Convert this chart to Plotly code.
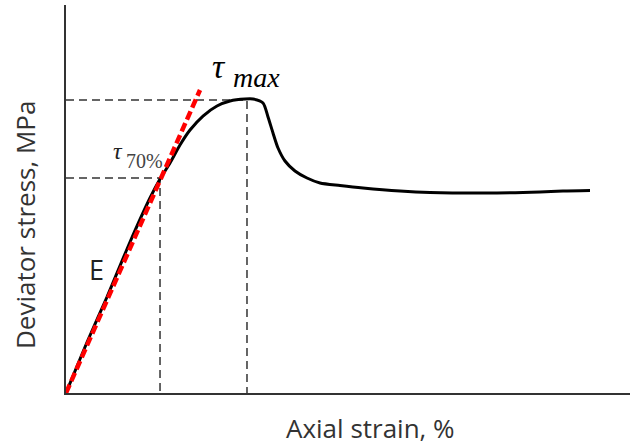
import plotly.graph_objects as go

# Stress-strain curve (arbitrary units)
strain = [0.0, 0.390, 0.727, 1.135, 1.489, 1.667, 1.844, 2.021, 2.199, 2.429, 2.677, 2.908,
          3.174, 3.316, 3.493, 3.582, 3.670, 3.759, 3.883, 4.060, 4.273, 4.504, 4.858,
          5.266, 5.922, 6.454, 7.642, 8.404, 8.812, 9.291]
stress = [0.0, 1.366, 2.474, 3.892, 5.026, 5.515, 5.928, 6.392, 6.778, 7.139, 7.397, 7.526,
          7.577, 7.577, 7.474, 7.113, 6.701, 6.314, 5.979, 5.722, 5.541, 5.412, 5.348,
          5.284, 5.206, 5.168, 5.155, 5.180, 5.206, 5.219]

# Tangent modulus line E
modulus_strain = [0.0, 2.376]
modulus_stress = [0.0, 7.809]

# Reference points
peak_strain, peak_stress = 3.209, 7.552
t70_strain, t70_stress = 1.667, 5.541

W, H = 631, 448
ml, mr, mt, mb = 66, 1, 5, 55

fig = go.Figure()

dash_style = dict(color="#333333", width=1.5, dash="8px,5px")
fig.add_trace(go.Scatter(x=[0, peak_strain, peak_strain], y=[peak_stress, peak_stress, 0],
                         mode="lines", line=dash_style, hoverinfo="skip"))
fig.add_trace(go.Scatter(x=[0, t70_strain, t70_strain], y=[t70_stress, t70_stress, 0],
                         mode="lines", line=dash_style, hoverinfo="skip"))
fig.add_trace(go.Scatter(x=strain, y=stress, mode="lines",
                         line=dict(color="black", width=3, shape="spline", smoothing=0.7)))
fig.add_trace(go.Scatter(x=modulus_strain, y=modulus_stress, mode="lines",
                         line=dict(color="#ff0000", width=4.5, dash="9px,4px")))


def px_to_paper(px, py):
    return (px - ml) / (W - ml - mr), 1 - (py - mt) / (H - mt - mb)


def add_text(px, py, text, size, family, xanchor="center", color="black", angle=0):
    xp, yp = px_to_paper(px, py)
    fig.add_annotation(x=xp, y=yp, xref="paper", yref="paper", text=text, showarrow=False,
                       xanchor=xanchor, yanchor="middle", textangle=angle,
                       font=dict(family=family, size=size, color=color))


serif = "Liberation Serif"
add_text(219, 66, "<i>τ</i>", 34, serif)
add_text(231, 77, "<i>max</i>", 28, serif, xanchor="left")
add_text(118, 151, "<i>τ</i>", 24, serif, color="#222222")
add_text(124, 161, "70%", 20, serif, xanchor="left", color="#444444")
add_text(96, 269, "E", 27, "Open Sans", color="#222222")
add_text(370, 428, "Axial strain, %", 26, "Open Sans", color="#333333")
add_text(25, 225, "Deviator stress, MPa", 26, "Open Sans", color="#333333", angle=-90)

fig.update_layout(
    width=W, height=H,
    margin=dict(l=ml, r=mr, t=mt, b=mb),
    paper_bgcolor="white", plot_bgcolor="white",
    showlegend=False,
    xaxis=dict(range=[0, 10], showgrid=False, zeroline=False, showticklabels=False,
               ticks="", showline=True, linecolor="#333333", linewidth=1.5),
    yaxis=dict(range=[0, 10], showgrid=False, zeroline=False, showticklabels=False,
               ticks="", showline=True, linecolor="#333333", linewidth=1.5),
)

fig.write_html("out.html")
